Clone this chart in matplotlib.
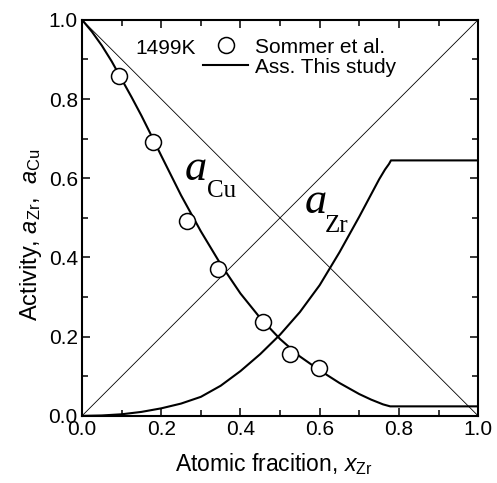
import matplotlib
matplotlib.use("Agg")
import matplotlib.pyplot as plt
from matplotlib.ticker import MultipleLocator

plt.rcParams['font.family'] = ['Liberation Sans', 'DejaVu Sans']
plt.rcParams['mathtext.fontset'] = 'custom'
plt.rcParams['mathtext.rm'] = 'Liberation Sans'
plt.rcParams['mathtext.it'] = 'Liberation Sans:italic'

# Sommer et al. measured a_Cu at 1499 K
x_exp = [0.094, 0.179, 0.264, 0.344, 0.458, 0.525, 0.598]
a_cu_exp = [0.859, 0.691, 0.491, 0.370, 0.236, 0.157, 0.121]

# associate model (this study)
x_cu = [0.0, 0.025, 0.05, 0.075, 0.1, 0.125, 0.15, 0.175, 0.2, 0.25, 0.3, 0.35,
        0.4, 0.45, 0.5, 0.55, 0.6, 0.65, 0.7, 0.73, 0.76, 0.778, 1.0]
a_cu = [1.0, 0.970, 0.935, 0.895, 0.850, 0.805, 0.758, 0.708, 0.657, 0.557, 0.466, 0.383,
        0.309, 0.247, 0.194, 0.150, 0.115, 0.083, 0.055, 0.041, 0.029, 0.024, 0.024]

x_zr = [0.0, 0.05, 0.1, 0.15, 0.2, 0.25, 0.3, 0.35, 0.4, 0.45, 0.5, 0.55,
        0.6, 0.65, 0.7, 0.725, 0.75, 0.765, 0.775, 0.78, 1.0]
a_zr = [0.0, 0.001, 0.004, 0.01, 0.019, 0.031, 0.048, 0.076, 0.113, 0.156, 0.205, 0.262,
        0.330, 0.413, 0.503, 0.550, 0.597, 0.622, 0.636, 0.645, 0.645]

fig = plt.figure(figsize=(4.97, 4.83), dpi=100)
ax = fig.add_axes([0.165, 0.139, 0.797, 0.820])

# Raoult's law reference lines
ax.plot([0, 1], [1, 0], color='black', lw=0.6)
ax.plot([0, 1], [0, 1], color='black', lw=0.6)

ax.plot(x_cu, a_cu, color='black', lw=1.5, label='Ass. This study')
ax.plot(x_zr, a_zr, color='black', lw=1.5)
ax.plot(x_exp, a_cu_exp, 'o', ms=11.5, mfc='white', mec='black', mew=1.1,
        label='Sommer et al.', zorder=3)

h, l = ax.get_legend_handles_labels()
ax.legend(h[::-1], l[::-1], loc='upper left', bbox_to_anchor=(0.306, 0.955),
          frameon=False, fontsize=15, handlelength=2.15, handletextpad=0.35,
          labelspacing=0.05, borderaxespad=0, borderpad=0)
ax.text(0.134, 0.914, '1499K', fontsize=15, va='baseline')

# curve labels
ax.text(0.26, 0.596, 'a', family='Liberation Serif', style='italic', fontsize=32, va='baseline')
ax.text(0.316, 0.553, 'Cu', family='Liberation Serif', fontsize=18, va='baseline')
ax.text(0.563, 0.513, 'a', family='Liberation Serif', style='italic', fontsize=32, va='baseline')
ax.text(0.614, 0.465, 'Zr', family='Liberation Serif', fontsize=18, va='baseline')

ax.set_xlim(0, 1)
ax.set_ylim(0, 1)
ax.xaxis.set_major_locator(MultipleLocator(0.2))
ax.xaxis.set_minor_locator(MultipleLocator(0.1))
ax.yaxis.set_major_locator(MultipleLocator(0.2))
ax.yaxis.set_minor_locator(MultipleLocator(0.1))
ax.xaxis.set_major_formatter(lambda v, p: f"{v:.1f}")
ax.yaxis.set_major_formatter(lambda v, p: f"{v:.1f}")
ax.tick_params(which='both', direction='in', top=True, right=True, width=1.1, labelsize=15)
ax.tick_params(which='major', length=6, pad=3)
ax.tick_params(which='minor', length=4)
for s in ax.spines.values():
    s.set_linewidth(1.5)

ax.set_xlabel(r'Atomic fracition, $x_{\mathrm{Zr}}$', fontsize=16.5)
ax.set_ylabel(r'Activity, $a_{\mathrm{Zr}}$,  $a_{\mathrm{Cu}}$', fontsize=17)
ax.xaxis.set_label_coords(0.483, -0.088)
ax.yaxis.set_label_coords(-0.096, 0.457)

fig.savefig('out.png', dpi=100)
